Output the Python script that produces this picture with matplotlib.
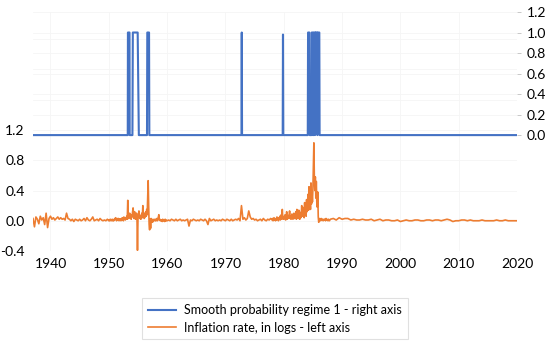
import numpy as np
import matplotlib.pyplot as plt

plt.rcParams['font.family'] = ['Lato', 'DejaVu Sans']

# inflation rate, in logs (left axis), segment by segment
# 1937-1949, quarterly
infl_a = [0.03, -0.08, 0.05, 0.02, -0.04, 0.06, 0.01, 0.04, -0.05, 0.10, -0.09, 0.03,
          0.06, 0.02, 0.04, 0.01, 0.03, 0.05, 0.02, 0.04, 0.02, 0.03, 0.01, 0.10,
          0.03, 0.02, 0.00, 0.02, -0.01, 0.02, 0.01, 0.00, 0.02, 0.00, 0.01, 0.03,
          0.00, 0.04, 0.01, 0.00, 0.02, 0.05, 0.00, 0.01, 0.02, 0.00, 0.03, 0.01,
          0.00, 0.01, 0.00, 0.02]
# 1950-1959, monthly
infl_b = [0.00, 0.01, 0.00, 0.02, 0.01, 0.00, 0.01, 0.02, 0.00, 0.01, 0.00, 0.02,
          0.01, 0.03, 0.04, 0.02, 0.00, 0.03, 0.02, 0.01, 0.03, 0.00, 0.02, 0.01,
          0.02, 0.00, 0.03, 0.01, 0.04, 0.02, 0.00, 0.05, 0.02, 0.03, 0.01, 0.04,
          0.03, 0.06, 0.02, 0.27, 0.08, 0.03, 0.05, 0.10, 0.04, 0.06, 0.02, 0.08,
          0.05, 0.12, 0.17, 0.06, 0.03, 0.12, 0.08, 0.02, 0.05, 0.10, 0.04, -0.39,
          0.02, 0.08, 0.13, 0.05, 0.03, 0.07, 0.02, 0.06, 0.10, 0.04, 0.20, 0.06,
          0.08, 0.03, 0.10, 0.05, 0.12, 0.06, 0.15, 0.08, 0.30, 0.53, 0.20, -0.05,
          -0.12, 0.02, -0.10, 0.03, 0.00, 0.02, -0.02, 0.01, 0.00, 0.02, 0.01, 0.00,
          0.02, 0.00, 0.01, 0.03, 0.00, 0.02, 0.05, 0.08, 0.01, 0.02, 0.00, 0.01,
          0.00, 0.01, -0.01, 0.02, 0.00, 0.01, 0.00, -0.01, 0.02, 0.00, 0.01, 0.00]
# 1960-1977, quarterly
infl_c = [0.00, 0.01, 0.00, 0.02, 0.01, 0.00, 0.02, 0.00, 0.01, 0.02, 0.00, 0.01,
          0.00, 0.01, 0.02, -0.07, 0.01, 0.00, 0.02, 0.01, 0.00, 0.01, 0.00, 0.02,
          0.01, 0.00, 0.02, 0.00, -0.05, 0.03, 0.00, 0.01, 0.02, 0.00, 0.01, 0.00,
          0.01, 0.00, 0.02, 0.01, 0.00, 0.02, 0.01, 0.00, 0.02, 0.00, 0.01, 0.02,
          0.01, 0.03, 0.00, 0.20, 0.02, 0.04, 0.01, 0.03, 0.13, 0.05, 0.02, 0.03,
          0.01, 0.02, 0.00, 0.01, 0.02, 0.00, 0.03, 0.01, 0.00, 0.02, 0.01, 0.03]
# 1978-1987, monthly
infl_d = [0.01, 0.03, 0.00, 0.02, 0.04, 0.01, 0.02, 0.00, 0.03, 0.01, 0.05, 0.02,
          0.03, 0.00, 0.04, 0.02, 0.06, 0.01, 0.03, 0.08, 0.02, 0.15, 0.03, 0.05,
          0.02, 0.06, 0.03, 0.08, 0.01, 0.04, 0.12, 0.02, 0.05, 0.03, 0.07, 0.04,
          0.13, 0.03, 0.06, 0.02, 0.05, 0.09, 0.04, 0.02, 0.06, 0.10, 0.03, 0.05,
          0.04, 0.12, 0.02, 0.15, 0.05, 0.12, 0.03, 0.14, 0.06, 0.02, 0.11, 0.04,
          0.08, 0.20, 0.06, 0.18, 0.08, 0.16, 0.04, 0.24, 0.10, 0.20, 0.06, 0.28,
          0.12, 0.22, 0.35, 0.14, 0.45, 0.20, 0.30, 0.15, 0.50, 0.22, 0.38, 0.25,
          0.42, 0.70, 1.03, 0.55, 0.40, 0.58, 0.30, 0.52, 0.25, 0.18, 0.38, 0.05,
          -0.02, 0.03, 0.01, 0.02, 0.00, 0.03, 0.02, 0.01, 0.02, 0.00, 0.01, 0.02,
          0.01, 0.02, 0.00, 0.03, 0.01, 0.02, 0.01, 0.00, 0.02, 0.01, 0.00, 0.01]
# 1988-2020, half-yearly
infl_e = [0.02, 0.03, 0.01, 0.04, 0.02, 0.03, 0.03, 0.01, 0.02, 0.01, 0.01, 0.02,
          0.01, 0.01, 0.02, 0.00, 0.01, 0.02, 0.00, 0.01, 0.01, 0.00, 0.00, 0.01,
          -0.01, 0.00, 0.01, 0.00, 0.00, 0.01, 0.01, 0.00, 0.00, 0.01, 0.01, 0.00,
          0.01, 0.01, 0.00, 0.01, 0.02, 0.01, -0.01, 0.00, 0.00, 0.01, 0.01, 0.00,
          0.01, 0.00, 0.00, 0.00, 0.01, 0.00, 0.00, 0.00, 0.00, 0.01, 0.00, 0.00,
          0.01, 0.00, 0.00, 0.00, 0.00]

# smooth probability of regime 1 (right axis), corner points of the line
prob_x = [1937.0, 1953.25, 1953.28, 1953.55, 1953.58, 1954.05, 1954.12, 1954.95, 1955.15,
          1955.4, 1956.55, 1956.6, 1956.9, 1956.95, 1972.75, 1972.8, 1972.85,
          1979.82, 1979.87, 1979.92, 1984.12, 1984.17, 1984.4, 1984.45, 1984.75,
          1984.8, 1984.95, 1985.0, 1985.08, 1985.12, 1985.3, 1985.35, 1985.45,
          1985.5, 1985.55, 1985.72, 1985.77, 1985.85, 1986.1, 1986.15, 2020.0]
prob_y = [0.0, 0.0, 1.0, 1.0, 0.0, 0.0, 1.0, 1.0, 0.0,
          0.0, 0.0, 1.0, 1.0, 0.0, 0.0, 1.0, 0.0,
          0.0, 0.98, 0.0, 0.0, 1.0, 1.0, 0.0, 0.0,
          1.0, 1.0, 0.0, 0.0, 1.0, 1.0, 0.0, 1.0,
          0.45, 1.0, 1.0, 0.0, 1.0, 1.0, 0.0, 0.0]

left_ticks = [-0.4, 0.0, 0.4, 0.8, 1.2]
right_ticks = [0.0, 0.2, 0.4, 0.6, 0.8, 1.0, 1.2]
year_ticks = [1940, 1950, 1960, 1970, 1980, 1990, 2000, 2010, 2020]


def dates(start, step, vals):
    return start + step * np.arange(len(vals))


t = np.concatenate([dates(1937.0, 0.25, infl_a), dates(1950.0, 1 / 12, infl_b),
                    dates(1960.0, 0.25, infl_c), dates(1978.0, 1 / 12, infl_d),
                    dates(1988.0, 0.5, infl_e)])
infl = np.concatenate([infl_a, infl_b, infl_c, infl_d, infl_e])

blue = '#4472C4'
orange = '#ED7D31'
grid_c = '#f5f5f5'

fig = plt.figure(figsize=(5.5, 3.41), dpi=100)
ax = fig.add_axes([0.06, 0.2639, 0.88, 0.7009])
ax2 = ax.twinx()

# faint gridlines
for y in np.arange(-0.4, 2.8, 0.4):
    ax.axhline(y, color=grid_c, lw=0.6, zorder=0)
for y in right_ticks:
    ax2.axhline(y, color=grid_c, lw=0.6, zorder=0)
for x in year_ticks:
    ax.axvline(x, color=grid_c, lw=0.6, zorder=0)

l1, = ax.plot(t, infl, color=orange, lw=1.2, label='Inflation rate, in logs - left axis')
l2, = ax2.plot(prob_x, prob_y, color=blue, lw=1.5, label='Smooth probability regime 1 - right axis')

ax.set_xlim(1937.0, 2020.0)
ax.set_ylim(-0.4, 2.76)
ax2.set_ylim(-1.13, 1.2)

ax.set_yticks(left_ticks)
ax.set_yticklabels(['%.1f' % v for v in left_ticks])
ax2.set_yticks(right_ticks)
ax2.set_yticklabels(['%.1f' % v for v in right_ticks])
ax.set_xticks(year_ticks)

ax.tick_params(axis='both', length=0, labelsize=10, colors='#000000')
ax.tick_params(axis='y', pad=6)
ax.tick_params(axis='x', pad=5)
ax2.tick_params(axis='y', length=3, width=0.6, color='#bfbfbf', labelsize=10, pad=4)

for a in (ax, ax2):
    for sp in a.spines.values():
        sp.set_visible(False)

leg = fig.legend([l2, l1], [l2.get_label(), l1.get_label()], loc='upper center',
                 bbox_to_anchor=(0.5, 1 - 292 / 341), fontsize=9, frameon=True,
                 fancybox=False, edgecolor='#d9d9d9', handlelength=2.2,
                 handletextpad=0.7, labelspacing=0.45, borderpad=0.45)
leg.get_frame().set_linewidth(0.8)

fig.savefig('out.png', dpi=100)
